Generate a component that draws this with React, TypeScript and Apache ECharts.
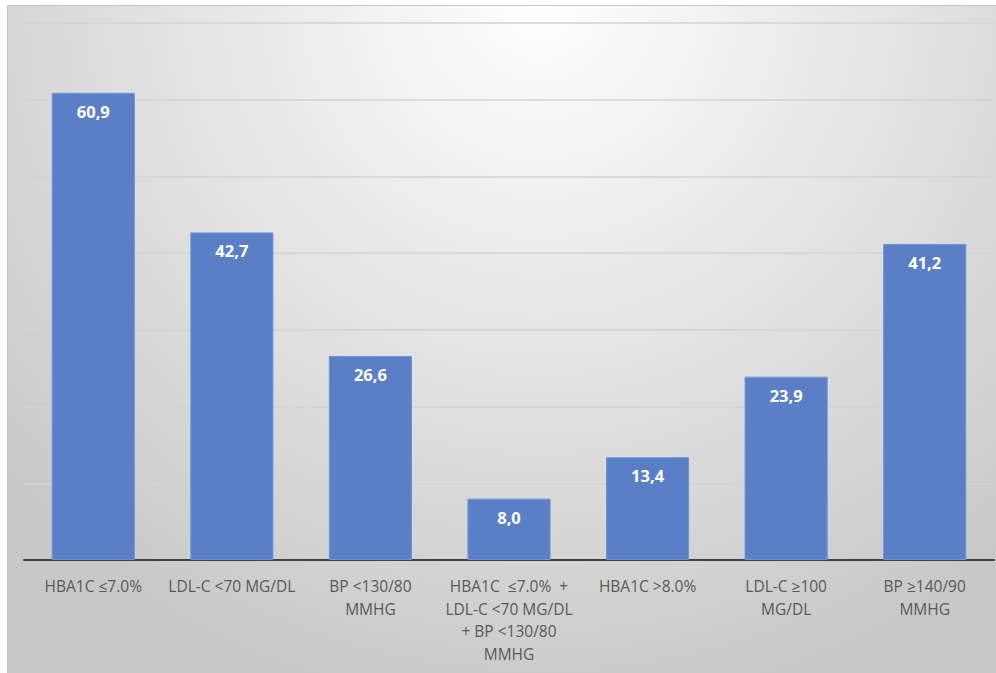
import React, { useEffect, useRef } from 'react';
import * as echarts from 'echarts';

const categories = [
  'HBA1C ≤7.0%',
  'LDL-C <70 MG/DL',
  'BP <130/80\nMMHG',
  'HBA1C  ≤7.0%  +\nLDL-C <70 MG/DL\n+ BP <130/80\nMMHG',
  'HBA1C >8.0%',
  'LDL-C ≥100\nMG/DL',
  'BP ≥140/90\nMMHG',
];
const values = [60.9, 42.7, 26.6, 8.0, 13.4, 23.9, 41.2];
const yMin = 0;
const yMax = 70;
const yInterval = 10;

export default function App() {
  const ref = useRef<HTMLDivElement>(null);
  useEffect(() => {
    if (!ref.current) return;
    const chart = echarts.init(ref.current, null, { renderer: 'svg' });
    chart.setOption({
      animation: false,
      backgroundColor: '#ffffff',
      graphic: [
        {
          type: 'rect',
          z: -100,
          silent: true,
          shape: { x: 7.5, y: 5.5, width: 1000, height: 700 },
          style: {
            fill: new echarts.graphic.RadialGradient(540, 0, 720, [
              { offset: 0, color: '#ffffff' },
              { offset: 1, color: '#c8c8c8' },
            ], true),
            stroke: '#c4c4c4',
            lineWidth: 1,
          },
        },
      ],
      grid: { left: 24, right: 2, top: 23, bottom: 113, containLabel: false, outerBoundsMode: 'none' },
      xAxis: {
        type: 'category',
        data: categories,
        axisLine: { show: true, lineStyle: { color: '#404040', width: 2 } },
        axisTick: { show: false },
        axisLabel: {
          interval: 0,
          color: '#595959',
          fontFamily: 'Open Sans',
          fontSize: 15.5,
          lineHeight: 22.5,
          margin: 15,
          align: 'center',
        },
      },
      yAxis: {
        type: 'value',
        min: yMin,
        max: yMax,
        interval: yInterval,
        axisLabel: { show: false },
        axisLine: { show: false },
        axisTick: { show: false },
        splitLine: { show: true, lineStyle: { color: '#d3d3d3', width: 1.5 } },
      },
      series: [
        {
          type: 'bar',
          data: values,
          barWidth: '60%',
          itemStyle: { color: '#5b7fc7', borderColor: '#7294d2', borderWidth: 1 },
          label: {
            show: true,
            position: 'insideTop',
            distance: 10,
            color: '#ffffff',
            fontFamily: 'Open Sans',
            fontWeight: 'bold',
            fontSize: 16.5,
            formatter: (p: any) => Number(p.value).toFixed(1).replace('.', ','),
          },
        },
      ],
    });
    return () => chart.dispose();
  }, []);
  return (
    <div
      ref={ref}
      style={{ position: 'fixed', left: 0, top: 0, width: 996, height: 673 }}
    />
  );
}
